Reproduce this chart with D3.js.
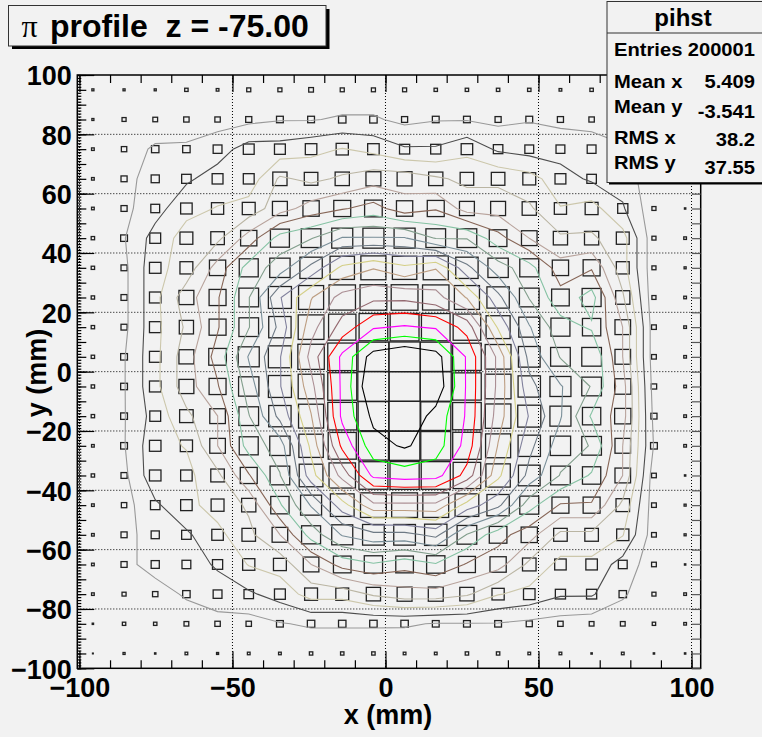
<!DOCTYPE html>
<html>
<head>
<meta charset="utf-8">
<script src="https://cdn.jsdelivr.net/npm/d3@7"></script>
<style>
  html, body { margin: 0; padding: 0; background: #f2f2f2; }
  svg { display: block; }
  text { font-family: "Liberation Sans", Arial, Helvetica, sans-serif; font-weight: bold; fill: #000; }
</style>
</head>
<body>
<svg id="chart" width="762" height="737"></svg>
<script>
// ---- histogram definition (pihst, 20 x 20 bins) ----
const nBinsX = 20;
const nBinsY = 20;
const xRange = [-100.7, 103.0];
const yRange = [-100, 100];

// bin contents, top row (y = 95) first, left column first
const binContents = [
  [7, 7, 7, 19, 12, 27, 27, 37, 27, 27, 27, 19, 19, 19, 19, 12, 19, 12, 7, 3],
  [7, 27, 37, 48, 48, 61, 76, 76, 91, 91, 61, 76, 76, 61, 76, 61, 48, 37, 19, 7],
  [12, 48, 91, 91, 128, 194, 194, 218, 245, 218, 170, 170, 218, 148, 128, 128, 128, 91, 27, 7],
  [12, 61, 109, 148, 194, 194, 333, 302, 333, 366, 366, 333, 302, 302, 273, 194, 148, 128, 27, 7],
  [12, 61, 128, 218, 245, 273, 366, 435, 473, 511, 435, 473, 366, 366, 333, 245, 273, 170, 27, 3],
  [19, 76, 194, 273, 302, 435, 593, 636, 727, 727, 727, 636, 636, 511, 400, 333, 333, 273, 27, 12],
  [19, 61, 218, 273, 435, 593, 680, 823, 980, 1035, 980, 1035, 823, 680, 593, 435, 473, 273, 27, 7],
  [19, 61, 218, 366, 473, 636, 874, 1035, 1150, 1180, 1180, 1150, 1035, 823, 636, 511, 593, 333, 27, 12],
  [19, 61, 218, 333, 473, 636, 823, 1092, 1230, 1350, 1370, 1350, 1250, 950, 727, 593, 551, 400, 37, 12],
  [19, 76, 218, 366, 511, 727, 874, 1150, 1380, 1560, 1600, 1560, 1350, 1100, 774, 636, 636, 400, 37, 12],
  [19, 76, 218, 366, 473, 680, 874, 1092, 1380, 1600, 1600, 1580, 1350, 1100, 823, 727, 636, 435, 48, 12],
  [19, 76, 194, 302, 400, 636, 823, 1035, 1380, 1540, 1590, 1490, 1350, 1080, 874, 727, 551, 435, 61, 12],
  [12, 76, 218, 245, 400, 593, 680, 980, 1300, 1490, 1530, 1480, 1330, 1035, 823, 680, 636, 400, 76, 12],
  [19, 61, 218, 218, 302, 473, 636, 926, 1150, 1380, 1400, 1390, 1250, 980, 774, 636, 551, 400, 37, 3],
  [12, 48, 148, 218, 273, 333, 551, 727, 926, 1100, 1100, 1100, 926, 823, 593, 473, 473, 302, 37, 7],
  [12, 61, 109, 148, 218, 302, 400, 593, 727, 774, 774, 823, 636, 511, 435, 302, 302, 245, 37, 7],
  [12, 61, 109, 128, 170, 245, 273, 400, 511, 551, 511, 551, 473, 435, 302, 218, 218, 128, 37, 3],
  [12, 27, 48, 91, 128, 148, 194, 273, 273, 333, 366, 366, 333, 245, 218, 170, 170, 91, 27, 12],
  [3, 19, 19, 37, 48, 48, 76, 91, 91, 91, 91, 76, 76, 76, 61, 48, 37, 37, 19, 12],
  [1, 7, 3, 12, 7, 12, 12, 19, 19, 19, 12, 12, 19, 19, 12, 12, 3, 12, 3, 3]
];

const xTickLabels = [-100, -50, 0, 50, 100];
const yTickLabels = [-100, -80, -60, -40, -20, 0, 20, 40, 60, 80, 100];

// contour line colours for levels 1..19 (ROOT default palette)
const contourColors = [
  "#999999", "#4d4d4d", "#ccc7ab", "#bab5a3", "#b8a39c", "#876657", "#85c2a3",
  "#829e8c", "#7a8f99", "#6e7a85", "#80809c", "#d4cf87", "#bd9e82", "#ab8f94",
  "#946970", "#ff0000", "#ff00ff", "#00ff00", "#000000"
];

const statsTitle = "pihst";
const statsLabels = ["Entries", "Mean x", "Mean y", "RMS x", "RMS y"];
const statsValues = ["200001", "5.409", "-3.541", "38.2", "37.55"];

// ---- layout ----
const frame = { left: 77.3, right: 700.7, top: 75, bottom: 668.3 };
const svg = d3.select("#chart");

svg.append("rect").attr("width", 762).attr("height", 737).attr("fill", "#f2f2f2");

const x = d3.scaleLinear().domain(xRange).range([frame.left, frame.right]);
const y = d3.scaleLinear().domain(yRange).range([frame.bottom, frame.top]);
const binW = (xRange[1] - xRange[0]) / nBinsX;
const binH = (yRange[1] - yRange[0]) / nBinsY;

const allValues = binContents.flat();
const zMax = d3.max(allValues);
const zMin = d3.min(allValues);
const boxScale = d3.scaleSqrt().domain([0, zMax]).range([0, 1]);

// grid (dotted)
const grid = svg.append("g").attr("stroke", "#000").attr("stroke-width", 1).attr("stroke-dasharray", "1,2");
grid.selectAll("line.gx").data(xTickLabels).join("line")
  .attr("x1", d => x(d)).attr("x2", d => x(d))
  .attr("y1", frame.top).attr("y2", frame.bottom);
grid.selectAll("line.gy").data(yTickLabels.slice(1, -1)).join("line")
  .attr("x1", frame.left).attr("x2", frame.right)
  .attr("y1", d => y(d)).attr("y2", d => y(d));

// boxes
const cells = [];
binContents.forEach((row, j) => row.forEach((z, i) => cells.push({ i, j, z })));

svg.append("g").selectAll("rect").data(cells).join("rect")
  .attr("x", d => x(xRange[0] + (d.i + 0.5) * binW - 0.5 * binW * boxScale(d.z)))
  .attr("width", d => x(xRange[0] + binW * boxScale(d.z)) - x(xRange[0]))
  .attr("y", d => y(yRange[1] - (d.j + 0.5) * binH + 0.5 * binH * boxScale(d.z)))
  .attr("height", d => y(yRange[1] - binH * boxScale(d.z)) - y(yRange[1]))
  .attr("fill", "none")
  .attr("stroke", "#222")
  .attr("stroke-width", 1.3);

// contours
const thresholds = d3.range(1, 20).map(k => zMin + k * (zMax - zMin) / 20);
const contours = d3.contours().size([nBinsX, nBinsY]).thresholds(thresholds)(allValues);
const gridToPx = d3.geoTransform({
  point: function (gx, gy) {
    this.stream.point(x(xRange[0] + gx * binW), y(yRange[1] - gy * binH));
  }
});
const contourPath = d3.geoPath(gridToPx);

svg.append("g").selectAll("path").data(contours).join("path")
  .attr("d", contourPath)
  .attr("fill", "none")
  .attr("stroke", (d, k) => contourColors[k])
  .attr("stroke-width", 1.1);

// frame
svg.append("rect")
  .attr("x", frame.left).attr("y", frame.top)
  .attr("width", frame.right - frame.left).attr("height", frame.bottom - frame.top)
  .attr("fill", "none").attr("stroke", "#000").attr("stroke-width", 1.5);

// ---- axes ----
function tickGroup(axis, tx, ty, color) {
  const g = svg.append("g").attr("transform", `translate(${tx},${ty})`).call(axis);
  g.select(".domain").remove();
  g.selectAll(".tick line").attr("stroke", color || "#000").attr("stroke-width", 1.2);
  return g;
}

const xMinor = d3.range(-100, 101, 10);
const ySecondary = d3.range(-100, 101, 5);
const yTertiary = d3.range(-100, 101, 1);

// bottom
const xAxis = tickGroup(d3.axisBottom(x).tickValues(xTickLabels).tickSize(-17).tickFormat(d3.format("d")), 0, frame.bottom);
xAxis.selectAll("text").attr("y", 29).attr("dy", 0).attr("font-size", 27).attr("fill", "#000");
tickGroup(d3.axisBottom(x).tickValues(xMinor).tickSize(-8).tickFormat(""), 0, frame.bottom);
// top
tickGroup(d3.axisTop(x).tickValues(xTickLabels).tickSize(-17).tickFormat(""), 0, frame.top);
tickGroup(d3.axisTop(x).tickValues(xMinor).tickSize(-8).tickFormat(""), 0, frame.top);
// left
const yAxis = tickGroup(d3.axisLeft(y).tickValues(yTickLabels).tickSize(-17).tickFormat(d3.format("d")), frame.left, 0);
yAxis.selectAll("text").attr("x", -5.5).attr("dy", "0.36em").attr("font-size", 27).attr("text-anchor", "end").attr("fill", "#000");
tickGroup(d3.axisLeft(y).tickValues(ySecondary).tickSize(-9).tickFormat(""), frame.left, 0);
tickGroup(d3.axisLeft(y).tickValues(yTertiary).tickSize(-4).tickFormat(""), frame.left, 0);
// right
tickGroup(d3.axisRight(y).tickValues(ySecondary).tickSize(-9).tickFormat(""), frame.right, 0, "#555");

// axis titles
svg.append("text").attr("x", 388).attr("y", 724).attr("text-anchor", "middle")
  .attr("font-size", 27).text("x (mm)");
svg.append("text").attr("transform", "translate(46,373) rotate(-90)").attr("text-anchor", "middle")
  .attr("font-size", 27).text("y (mm)");

// ---- title box ----
svg.append("rect").attr("x", 12).attr("y", 9).attr("width", 317.5).attr("height", 40).attr("fill", "#000");
svg.append("rect").attr("x", 8.5).attr("y", 5.5).attr("width", 317.5).attr("height", 40.5)
  .attr("fill", "#f2f2f2").attr("stroke", "#333").attr("stroke-width", 1);
const title = svg.append("text").attr("y", 36.5).attr("font-size", 32).style("white-space", "pre");
title.append("tspan").attr("x", 21.5).attr("font-family", "'Liberation Serif', 'DejaVu Serif', serif")
  .attr("font-weight", "normal").text("\u03c0");
title.append("tspan").attr("x", 50).text("profile  z = -75.00");

// ---- stats box ----
svg.append("rect").attr("x", 609).attr("y", 3.5).attr("width", 160).attr("height", 181).attr("fill", "#000");
svg.append("rect").attr("x", 607).attr("y", 1.5).attr("width", 160).attr("height", 181)
  .attr("fill", "#f2f2f2").attr("stroke", "#333").attr("stroke-width", 1);
svg.append("line").attr("x1", 607).attr("x2", 767).attr("y1", 33).attr("y2", 33)
  .attr("stroke", "#333").attr("stroke-width", 1);
svg.append("text").attr("x", 683).attr("y", 26).attr("text-anchor", "middle")
  .attr("font-size", 24).text(statsTitle);

const labelBase = [56, 88, 113.5, 144.5, 169.5];
const valueBase = [56, 88, 118.5, 146.5, 174.5];
svg.append("g").attr("transform", "translate(614,0) scale(1.12,1)")
  .selectAll("text").data(statsLabels).join("text")
  .attr("x", 0).attr("y", (d, k) => labelBase[k]).attr("font-size", 18).text(d => d);
svg.append("g").attr("transform", "translate(755,0) scale(1.12,1)")
  .selectAll("text").data(statsValues).join("text")
  .attr("x", 0).attr("y", (d, k) => valueBase[k]).attr("text-anchor", "end").attr("font-size", 18).text(d => d);
</script>
</body>
</html>
